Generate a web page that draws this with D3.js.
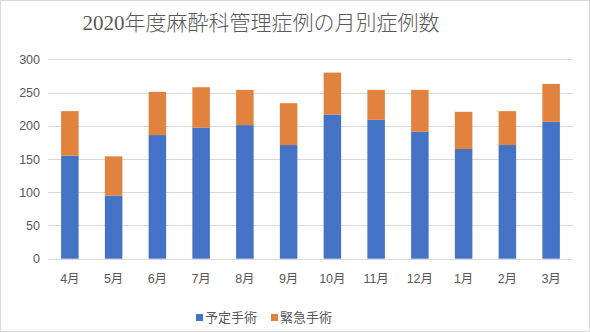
<!DOCTYPE html>
<html><head><meta charset="utf-8">
<script src="https://cdn.jsdelivr.net/npm/d3@7"></script>
<style>html,body{margin:0;padding:0;background:#fff;}</style>
</head><body>
<svg id="c" width="590" height="332"></svg>
<script>
const months = ["4月","5月","6月","7月","8月","9月","10月","11月","12月","1月","2月","3月"];
const scheduled = [155, 95, 186, 197, 201, 171, 217, 209, 191, 165, 171, 206];
const emergency = [67, 59, 65, 61, 53, 63, 63, 45, 63, 56, 51, 57];
const seriesNames = ["予定手術", "緊急手術"];
const yTicks = [0, 50, 100, 150, 200, 250, 300];
const title = "2020年度麻酔科管理症例の月別症例数";

const colors = ["#4472C4", "#E2823F"];
const font = "'Liberation Sans','Noto Sans CJK JP',sans-serif";
const svg = d3.select("#c");
svg.append("rect").attr("x",0.5).attr("y",0.5).attr("width",589).attr("height",331)
  .attr("fill","#fff").attr("stroke","#d9d9d9");

svg.append("text").attr("x",261).attr("y",30).attr("text-anchor","middle")
  .attr("font-family","'Liberation Serif','Noto Sans CJK JP',serif").attr("font-size",21)
  .attr("font-weight",300)
  .attr("fill","#595959").text(title);

const x = d3.scaleBand().domain(months).range([48, 573]).paddingInner(0.6).paddingOuter(0.3);
const y = d3.scaleLinear().domain([0, 300]).range([258.7, 59.3]);

const g = svg.append("g");
g.selectAll("line.grid").data(yTicks).join("line")
  .attr("x1",48).attr("x2",573).attr("y1",d=>Math.round(y(d))+0.5).attr("y2",d=>Math.round(y(d))+0.5)
  .attr("stroke","#d9d9d9").attr("stroke-width",1);

const data = months.map((m,i)=>({m, s:scheduled[i], e:emergency[i]}));
const stacked = d3.stack().keys(["s","e"])(data);
stacked.forEach((layer,li)=>{
  g.selectAll(null).data(layer).join("rect")
    .attr("x",d=>x(d.data.m)).attr("width",x.bandwidth())
    .attr("y",d=>y(d[1])).attr("height",d=>y(d[0])-y(d[1]))
    .attr("fill",colors[li]);
});

const yAxis = d3.axisLeft(y).tickValues(yTicks).tickSize(0).tickPadding(0);
const ya = svg.append("g").attr("transform","translate(40,0)").call(yAxis);
ya.select(".domain").remove();
ya.selectAll("text").attr("font-family",font).attr("font-size",12.5).attr("fill","#595959");

const xAxis = d3.axisBottom(x).tickSize(0).tickPadding(0);
const xa = svg.append("g").attr("transform","translate(0,274)").call(xAxis);
xa.select(".domain").remove();
xa.selectAll("text").attr("font-family",font).attr("font-size",12.5).attr("fill","#595959");

const leg = svg.append("g");
const legX = [196, 271];
seriesNames.forEach((n,i)=>{
  leg.append("rect").attr("x",legX[i]).attr("y",314).attr("width",7).attr("height",7).attr("fill",colors[i]);
  leg.append("text").attr("x",legX[i]+9).attr("y",322).attr("font-family",font).attr("font-size",13)
    .attr("fill","#595959").text(n);
});
</script>
</body></html>
